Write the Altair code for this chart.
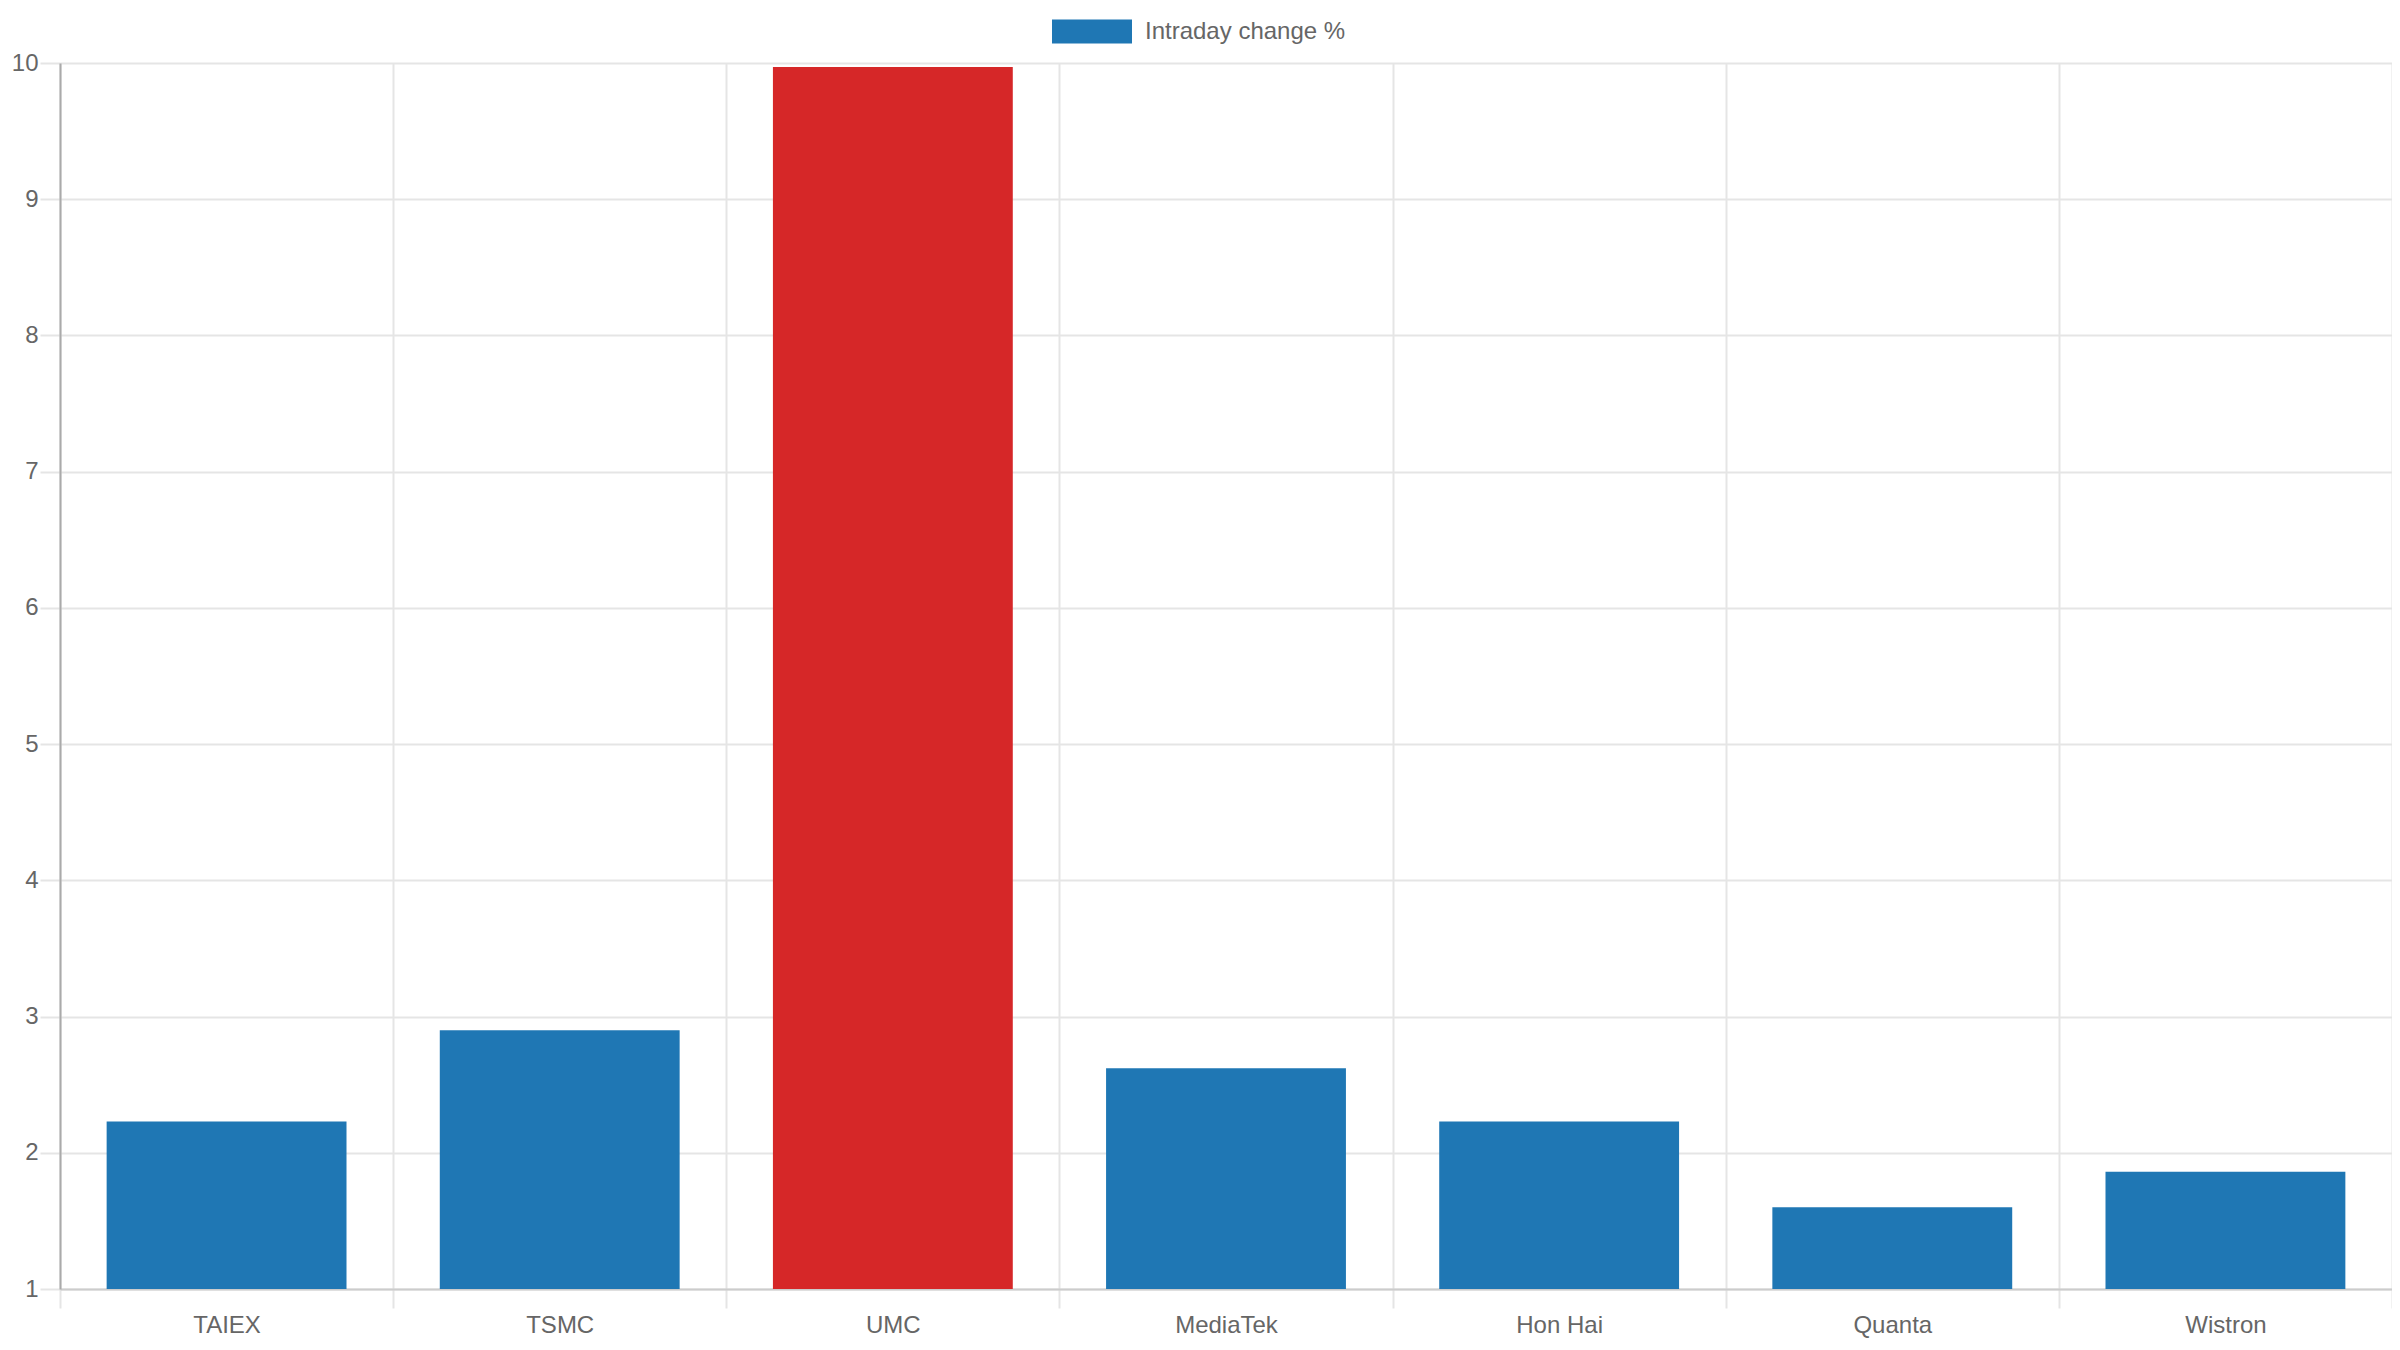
import altair as alt
import pandas as pd

names = ["TAIEX", "TSMC", "UMC", "MediaTek", "Hon Hai", "Quanta", "Wistron"]
changes = [2.23, 2.90, 9.97, 2.62, 2.23, 1.60, 1.86]
series_label = "Intraday change %"
highlight = "UMC"
y_ticks = [1, 2, 3, 4, 5, 6, 7, 8, 9, 10]
y_min, y_max = 1, 10

df = pd.DataFrame({
    "name": names,
    "change": changes,
    "series": [series_label] * len(names),
})

BLUE = "#1f77b4"
RED = "#d62728"
GRID = "#e5e5e5"
LABEL = "#666666"
FONT = "Liberation Sans"

chart = alt.Chart(df).mark_bar(width=alt.RelativeBandSize(0.72)).encode(
    x=alt.X(
        "name:N",
        sort=names,
        title=None,
        scale=alt.Scale(paddingInner=0, paddingOuter=0),
        axis=alt.Axis(
            tickBand="extent",
            labelAngle=0,
            grid=True,
            gridColor=GRID,
            gridWidth=2,
            tickColor=GRID,
            tickWidth=2,
            tickSize=19,
            domainColor="#cccccc",
            domainWidth=2,
            labelFont=FONT,
            labelFontSize=24,
            labelColor=LABEL,
            labelPadding=5,
        ),
    ),
    y=alt.Y(
        "change:Q",
        title=None,
        scale=alt.Scale(domain=[y_min, y_max], nice=False, zero=False, clamp=True),
        axis=alt.Axis(
            values=y_ticks,
            grid=True,
            gridColor=GRID,
            gridWidth=2,
            tickColor=GRID,
            tickWidth=2,
            tickSize=20,
            domainColor="#aaaaaa",
            domainWidth=2,
            labelFont=FONT,
            labelFontSize=24,
            labelColor=LABEL,
            labelPadding=2,
        ),
    ),
    y2=alt.datum(y_min),
    color=alt.condition(
        alt.datum.name == highlight,
        alt.value(RED),
        alt.Color(
            "series:N",
            scale=alt.Scale(domain=[series_label], range=[BLUE]),
            legend=alt.Legend(
                title=None,
                orient="none",
                legendX=992,
                legendY=-71.5,
                padding=0,
                offset=0,
                symbolType="M-1,-0.3L1,-0.3L1,0.3L-1,0.3Z",
                symbolSize=6400,
                symbolStrokeWidth=0,
                symbolOpacity=1,
                labelFont=FONT,
                labelFontSize=24,
                labelColor=LABEL,
                labelOffset=13,
                labelLimit=0,
            ),
        ),
    ),
).properties(
    width=2332,
    height=1226,
    autosize=alt.AutoSizeParams(type="none"),
    padding={"left": 52, "top": 55, "right": 0, "bottom": 50},
    background="white",
).configure_view(stroke=None)

chart.save("out.html", embed_options={"renderer": "svg", "actions": False})
